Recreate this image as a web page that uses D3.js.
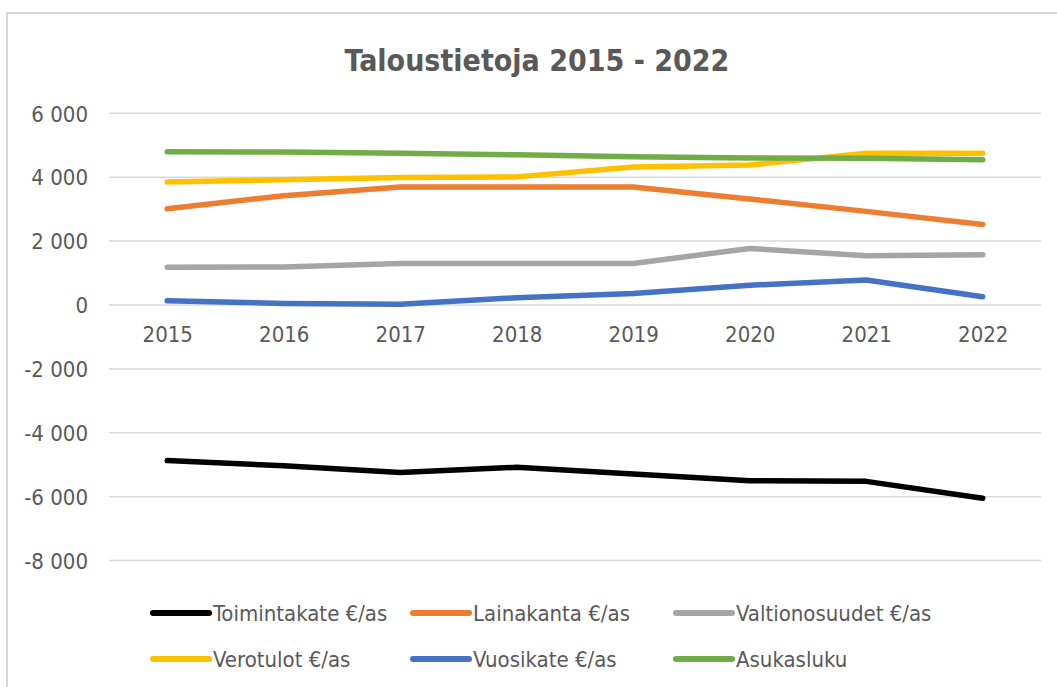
<!DOCTYPE html>
<html>
<head>
<meta charset="utf-8">
<script src="https://cdn.jsdelivr.net/npm/d3@7"></script>
<style>
  html, body { margin: 0; padding: 0; background: #fff; }
  svg { display: block; }
  text { font-family: "Liberation Sans Narrow", "DejaVu Sans Condensed", "Open Sans", sans-serif; fill: #595959; }
</style>
</head>
<body>
<svg id="chart" width="1057" height="687"></svg>
<script>
const years = ["2015", "2016", "2017", "2018", "2019", "2020", "2021", "2022"];
const yTicks = [-8000, -6000, -4000, -2000, 0, 2000, 4000, 6000];
const seriesNames = ["Toimintakate €/as", "Lainakanta €/as", "Valtionosuudet €/as", "Verotulot €/as", "Vuosikate €/as", "Asukasluku"];
const toimintakate = [-4870, -5030, -5240, -5080, -5290, -5500, -5520, -6050];
const lainakanta = [3010, 3420, 3690, 3690, 3690, 3320, 2930, 2520];
const valtionosuudet = [1180, 1190, 1300, 1300, 1300, 1770, 1540, 1570];
const verotulot = [3850, 3920, 3990, 4010, 4320, 4380, 4750, 4750];
const vuosikate = [130, 50, 20, 230, 360, 620, 780, 260];
const asukasluku = [4800, 4790, 4750, 4700, 4640, 4600, 4590, 4550];
const colors = ["#000000", "#ED7D31", "#A5A5A5", "#FFC000", "#4472C4", "#70AD47"];

const seriesValues = [toimintakate, lainakanta, valtionosuudet, verotulot, vuosikate, asukasluku];
const svg = d3.select("#chart");

// chart border
svg.append("rect").attr("x", 7).attr("y", 13).attr("width", 1060).attr("height", 690)
  .attr("fill", "#fff").attr("stroke", "#d9d9d9").attr("stroke-width", 2);

// title
svg.append("text").attr("x", 537).attr("y", 71).attr("text-anchor", "middle")
  .style("font-size", "30px").style("font-weight", "bold").text("Taloustietoja 2015 - 2022");

const x = d3.scalePoint().domain(years).range([109, 1041]).padding(0.5);
const y = d3.scaleLinear().domain([-8000, 6000]).range([560.6, 113.3]);

// gridlines
svg.append("g").selectAll("line").data(yTicks).join("line")
  .attr("x1", 109).attr("x2", 1041)
  .attr("y1", d => y(d)).attr("y2", d => y(d))
  .attr("stroke", "#d9d9d9").attr("stroke-width", 1.5);

// y axis labels
const yAxis = d3.axisLeft(y).tickValues(yTicks).tickSize(0).tickPadding(0)
  .tickFormat(d => d3.format(",")(d).replace(/,/g, " ").replace("−", "-"));
const gy = svg.append("g").attr("transform", "translate(88,0)").call(yAxis);
gy.select(".domain").remove();
gy.selectAll("text").style("font-size", "22px").attr("fill", "#595959").attr("dy", "0.35em");

// x axis labels
const xAxis = d3.axisBottom(x).tickSize(0).tickPadding(0);
const gx = svg.append("g").attr("transform", "translate(0,326)").call(xAxis);
gx.select(".domain").remove();
gx.selectAll("text").style("font-size", "22px").attr("fill", "#595959").attr("dy", "0.71em");

// lines
const line = d3.line().x((d, i) => x(years[i])).y(d => y(d));
svg.append("g").selectAll("path").data(seriesValues).join("path")
  .attr("d", d => line(d))
  .attr("fill", "none")
  .attr("stroke", (d, i) => colors[i])
  .attr("stroke-width", 5.5)
  .attr("stroke-linecap", "round")
  .attr("stroke-linejoin", "round");

// legend
const legendPos = [[153, 613], [413, 613], [676, 613], [153, 659], [413, 659], [676, 659]];
const lg = svg.append("g").selectAll("g").data(seriesNames).join("g")
  .attr("transform", (d, i) => `translate(${legendPos[i][0]},${legendPos[i][1]})`);
lg.append("line").attr("x1", 0).attr("x2", 56).attr("y1", 0).attr("y2", 0)
  .attr("stroke", (d, i) => colors[i]).attr("stroke-width", 6).attr("stroke-linecap", "round");
lg.append("text").attr("x", 60).attr("y", 0).attr("dy", "0.35em")
  .style("font-size", "22px").text(d => d);
</script>
</body>
</html>
